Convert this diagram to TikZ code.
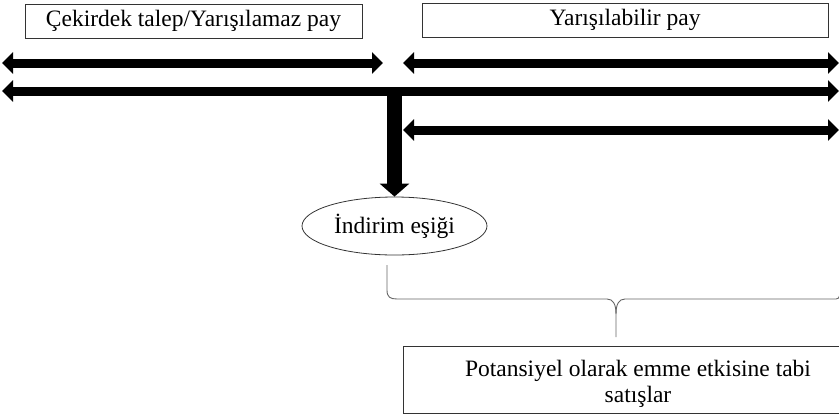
\documentclass[tikz,border=0pt]{standalone}
\usepackage{fontspec}
\setmainfont{Liberation Serif}
\usetikzlibrary{arrows.meta,shapes.geometric}
\begin{document}
\begin{tikzpicture}[x=1pt,y=-1pt,
  txt/.style={inner sep=0pt,font=\fontsize{23.5}{25.5}\selectfont},
  lbl/.style={txt,draw=black!80,line width=0.8pt},
  fat/.style={line width=9pt,{Triangle[width=21pt,length=11pt]}-{Triangle[width=21pt,length=11pt]}},
  down/.style={line width=15pt,-{Triangle[width=29pt,length=13pt]}}]
\useasboundingbox (0,0) rectangle (839,416);
\node[lbl,minimum width=337pt,minimum height=34pt] (core) at (193.5,21) {Çekirdek talep/Yarışılamaz pay};
\node[lbl,minimum width=406pt,minimum height=34pt] (cont) at (625,20) {Yarışılabilir pay};
\node[txt,ellipse,draw=black!80,line width=0.8pt,minimum width=185pt,minimum height=58pt] (thr) at (394.5,226) {İndirim eşiği};
\node[lbl,minimum width=470pt,minimum height=67pt] (sales) at (638,379.5) {};
\node[txt,align=center] (salestxt) at (638,384) {Potansiyel olarak emme etkisine tabi\\satışlar};
\coordinate (a1l) at (2,63); \coordinate (a1r) at (383,63);
\coordinate (a2l) at (403,63); \coordinate (a2r) at (839,63);
\coordinate (a3l) at (2,91); \coordinate (a3r) at (839,91);
\coordinate (a4l) at (403,130); \coordinate (a4r) at (839,130);
\coordinate (vt) at (394.5,87);
\draw[fat] (a1l) -- (a1r);
\draw[fat] (a2l) -- (a2r);
\draw[fat] (a3l) -- (a3r);
\draw[fat] (a4l) -- (a4r);
\draw[down] (vt) -- (thr.north);
\draw[black!60,line width=0.9pt] (387,265) -- (387,290) .. controls (387,297) and (390,299) .. (397,299) -- (607,299)
  .. controls (613,299) and (616,304) .. (616,314) -- (616,337);
\draw[black!60,line width=0.9pt] (616,314) .. controls (616,304) and (619,299) .. (625,299) -- (836,299) .. controls (838,299) and (839,298) .. (840,295);
\end{tikzpicture}
\end{document}
